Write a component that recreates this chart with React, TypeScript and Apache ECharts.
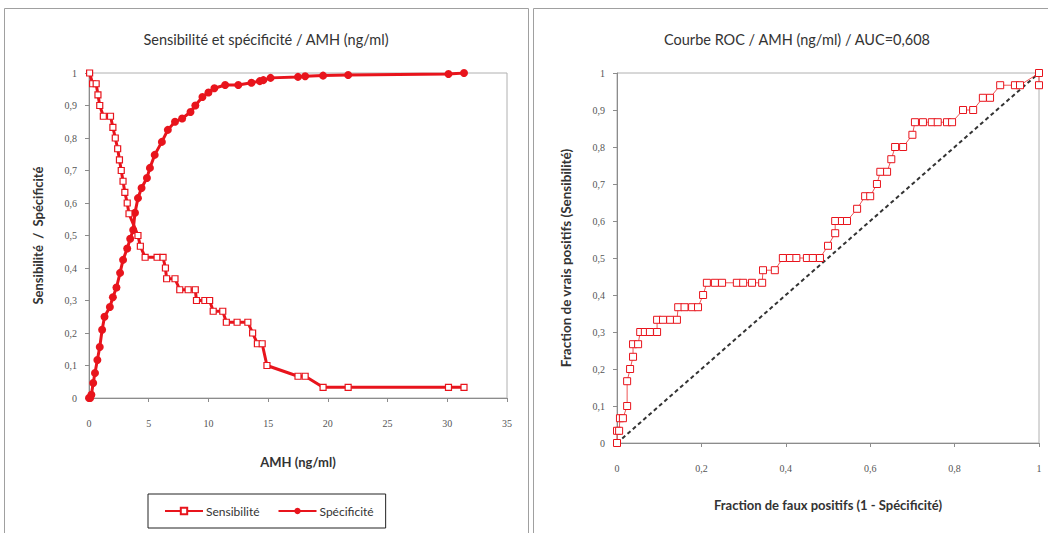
import React, { useEffect, useRef } from "react";
import * as echarts from "echarts";

// Left chart: Sensibilité / Spécificité vs AMH
const amhSens = [0.05, 0.3, 0.6, 0.75, 0.9, 1.2, 1.8, 2.0, 2.2, 2.4, 2.55, 2.7, 2.85, 3.0, 3.2, 3.35, 4.1, 4.3, 4.7, 5.7, 6.2, 6.4, 6.5, 7.2, 7.6, 8.3, 8.9, 9.0, 9.7, 10.1, 10.4, 11.2, 11.5, 12.4, 13.3, 13.7, 14.1, 14.5, 14.9, 17.5, 18.1, 19.6, 21.7, 30.1, 31.4];
const sensValues = [1, 0.967, 0.967, 0.933, 0.9, 0.867, 0.867, 0.833, 0.8, 0.767, 0.733, 0.7, 0.667, 0.633, 0.6, 0.567, 0.5, 0.467, 0.433, 0.433, 0.433, 0.4, 0.367, 0.367, 0.333, 0.333, 0.333, 0.3, 0.3, 0.3, 0.267, 0.267, 0.233, 0.233, 0.233, 0.2, 0.167, 0.167, 0.1, 0.067, 0.067, 0.033, 0.033, 0.033, 0.033];
const amhSpec = [0, 0.1, 0.2, 0.35, 0.5, 0.7, 0.9, 1.1, 1.3, 1.75, 2.0, 2.3, 2.6, 2.85, 3.2, 3.45, 3.7, 3.85, 4.1, 4.4, 4.85, 5.1, 5.5, 6.1, 6.6, 7.2, 7.8, 8.5, 8.9, 9.5, 10.0, 10.5, 11.4, 12.5, 13.6, 14.3, 14.6, 15.2, 17.5, 18.1, 19.6, 21.7, 30.1, 31.4];
const specValues = [0, 0, 0.01, 0.046, 0.077, 0.117, 0.157, 0.21, 0.25, 0.28, 0.31, 0.34, 0.385, 0.425, 0.46, 0.49, 0.517, 0.57, 0.615, 0.646, 0.677, 0.708, 0.748, 0.788, 0.825, 0.85, 0.86, 0.88, 0.9, 0.926, 0.94, 0.953, 0.963, 0.963, 0.97, 0.975, 0.978, 0.985, 0.988, 0.99, 0.992, 0.994, 0.997, 1.0];

// Right chart: ROC
const rocFpr = [0, 0, 0.005, 0.007, 0.014, 0.024, 0.024, 0.031, 0.038, 0.038, 0.05, 0.055, 0.066, 0.078, 0.095, 0.095, 0.109, 0.126, 0.142, 0.145, 0.16, 0.178, 0.192, 0.204, 0.213, 0.232, 0.249, 0.284, 0.299, 0.32, 0.344, 0.346, 0.374, 0.393, 0.41, 0.425, 0.45, 0.464, 0.481, 0.5, 0.517, 0.517, 0.533, 0.545, 0.569, 0.588, 0.6, 0.616, 0.624, 0.64, 0.65, 0.659, 0.678, 0.7, 0.706, 0.725, 0.746, 0.76, 0.782, 0.794, 0.82, 0.844, 0.867, 0.884, 0.908, 0.943, 0.955, 1, 1];
const rocTpr = [0, 0.033, 0.033, 0.067, 0.067, 0.1, 0.167, 0.2, 0.233, 0.267, 0.267, 0.3, 0.3, 0.3, 0.3, 0.333, 0.333, 0.333, 0.333, 0.367, 0.367, 0.367, 0.367, 0.4, 0.433, 0.433, 0.433, 0.433, 0.433, 0.433, 0.433, 0.467, 0.467, 0.5, 0.5, 0.5, 0.5, 0.5, 0.5, 0.533, 0.567, 0.6, 0.6, 0.6, 0.633, 0.667, 0.667, 0.7, 0.733, 0.733, 0.767, 0.8, 0.8, 0.833, 0.867, 0.867, 0.867, 0.867, 0.867, 0.867, 0.9, 0.9, 0.933, 0.933, 0.967, 0.967, 0.967, 1, 0.967];
const diagX = [0, 1];
const diagY = [0, 1];

const leftTicksX = [0, 5, 10, 15, 20, 25, 30, 35];

const RED = "#e8141c";
const AXIS = "#8c8c8c";
const TICKFONT = "'Liberation Serif', serif";
const FONT = "Lato, 'Open Sans', sans-serif";

const fmt = (v: number) => {
  const r = Math.round(v * 10) / 10;
  return String(r).replace(".", ",");
};

const zip = (xs: number[], ys: number[]) => xs.map((x, i) => [x, ys[i]]);

export default function App() {
  const ref = useRef<HTMLDivElement>(null);
  useEffect(() => {
    if (!ref.current) return;
    const chart = echarts.init(ref.current, undefined, { renderer: "svg" });
    const axisCommon = {
      axisLine: { show: true, onZero: false, lineStyle: { color: AXIS, width: 1 } },
      axisTick: { show: true, inside: false, length: 4, lineStyle: { color: AXIS } },
      splitLine: { show: false },
      axisLabel: { fontFamily: TICKFONT, fontSize: 10, color: "#555" },
      nameTextStyle: { fontFamily: FONT, fontSize: 13, fontWeight: "bold", color: "#333" },
    };
    chart.setOption({
      animation: false,
      backgroundColor: "#fff",
      graphic: [
        { type: "rect", shape: { x: 4.5, y: 8.5, width: 524, height: 532 }, style: { fill: "none", stroke: "#a0a0a0", lineWidth: 1 }, silent: true },
        { type: "rect", shape: { x: 533.5, y: 8.5, width: 520, height: 532 }, style: { fill: "none", stroke: "#a0a0a0", lineWidth: 1 }, silent: true },
        { type: "text", x: 266, y: 39, style: { text: "Sensibilité et spécificité / AMH (ng/ml)", fontFamily: FONT, fontSize: 14.5, fill: "#333", align: "center", verticalAlign: "middle" } },
        { type: "text", x: 797, y: 39, style: { text: "Courbe ROC / AMH (ng/ml) / AUC=0,608", fontFamily: FONT, fontSize: 14.5, fill: "#333", align: "center", verticalAlign: "middle" } },
      ],
      legend: {
        left: 148,
        top: 494,
        data: ["Sensibilité", "Spécificité"],
        borderColor: "#222",
        borderWidth: 1,
        padding: [11, 12, 11, 16],
        itemGap: 18,
        itemWidth: 38,
        itemHeight: 8,
        textStyle: { fontFamily: FONT, fontSize: 12, color: "#333", padding: [0, 0, 0, -2] },
      },
      grid: [
        { left: 89, right: 541, top: 73, bottom: 135, show: true, borderColor: "#b0b0b0", borderWidth: 1, backgroundColor: "#fff" },
        { left: 617, right: 9, top: 73, bottom: 90, show: true, borderColor: "#b0b0b0", borderWidth: 1, backgroundColor: "#fff" },
      ],
      xAxis: [
        {
          ...axisCommon,
          type: "value", gridIndex: 0, min: leftTicksX[0], max: leftTicksX[leftTicksX.length - 1], interval: 5,
          name: "AMH (ng/ml)", nameLocation: "middle", nameGap: 57,
          axisLabel: { ...axisCommon.axisLabel, margin: 20 },
        },
        {
          ...axisCommon,
          type: "value", gridIndex: 1, min: 0, max: 1, interval: 0.2,
          name: "Fraction de faux positifs (1 - Spécificité)", nameLocation: "middle", nameGap: 55,
          axisLabel: { ...axisCommon.axisLabel, margin: 20, formatter: fmt },
        },
      ],
      yAxis: [
        {
          ...axisCommon,
          type: "value", gridIndex: 0, min: 0, max: 1, interval: 0.1,
          name: "Sensibilité  /  Spécificité", nameLocation: "middle", nameGap: 45,
          axisLabel: { ...axisCommon.axisLabel, margin: 12, formatter: fmt },
        },
        {
          ...axisCommon,
          type: "value", gridIndex: 1, min: 0, max: 1, interval: 0.1,
          name: "Fraction de vrais positifs (Sensibilité)", nameLocation: "middle", nameGap: 44,
          nameTextStyle: { ...axisCommon.nameTextStyle, fontSize: 13.5 },
          axisLabel: { ...axisCommon.axisLabel, margin: 12, formatter: fmt },
        },
      ],
      series: [
        {
          name: "Sensibilité", type: "line", xAxisIndex: 0, yAxisIndex: 0,
          data: zip(amhSens, sensValues),
          symbol: "rect", symbolSize: 6,
          itemStyle: { color: "#fff", borderColor: RED, borderWidth: 1.2 },
          lineStyle: { color: RED, width: 3 },
          z: 3,
        },
        {
          name: "Spécificité", type: "line", xAxisIndex: 0, yAxisIndex: 0,
          data: zip(amhSpec, specValues),
          symbol: "circle", symbolSize: 8,
          itemStyle: { color: RED },
          lineStyle: { color: RED, width: 3 },
          z: 2,
        },
        {
          name: "Diagonale", type: "line", xAxisIndex: 1, yAxisIndex: 1,
          data: zip(diagX, diagY),
          symbol: "circle", symbolSize: 4,
          itemStyle: { color: "#222" },
          lineStyle: { color: "#333", width: 2, type: [4, 3] },
          z: 2,
        },
        {
          name: "ROC", type: "line", xAxisIndex: 1, yAxisIndex: 1,
          data: zip(rocFpr, rocTpr),
          symbol: "rect", symbolSize: 7,
          itemStyle: { color: "#fff", borderColor: RED, borderWidth: 1 },
          lineStyle: { color: "#ee5555", width: 1 },
          z: 3,
        },
      ],
    });
    return () => chart.dispose();
  }, []);
  return (
    <div
      ref={ref}
      style={{ position: "fixed", left: 0, top: 0, width: 1048, height: 533 }}
    />
  );
}
